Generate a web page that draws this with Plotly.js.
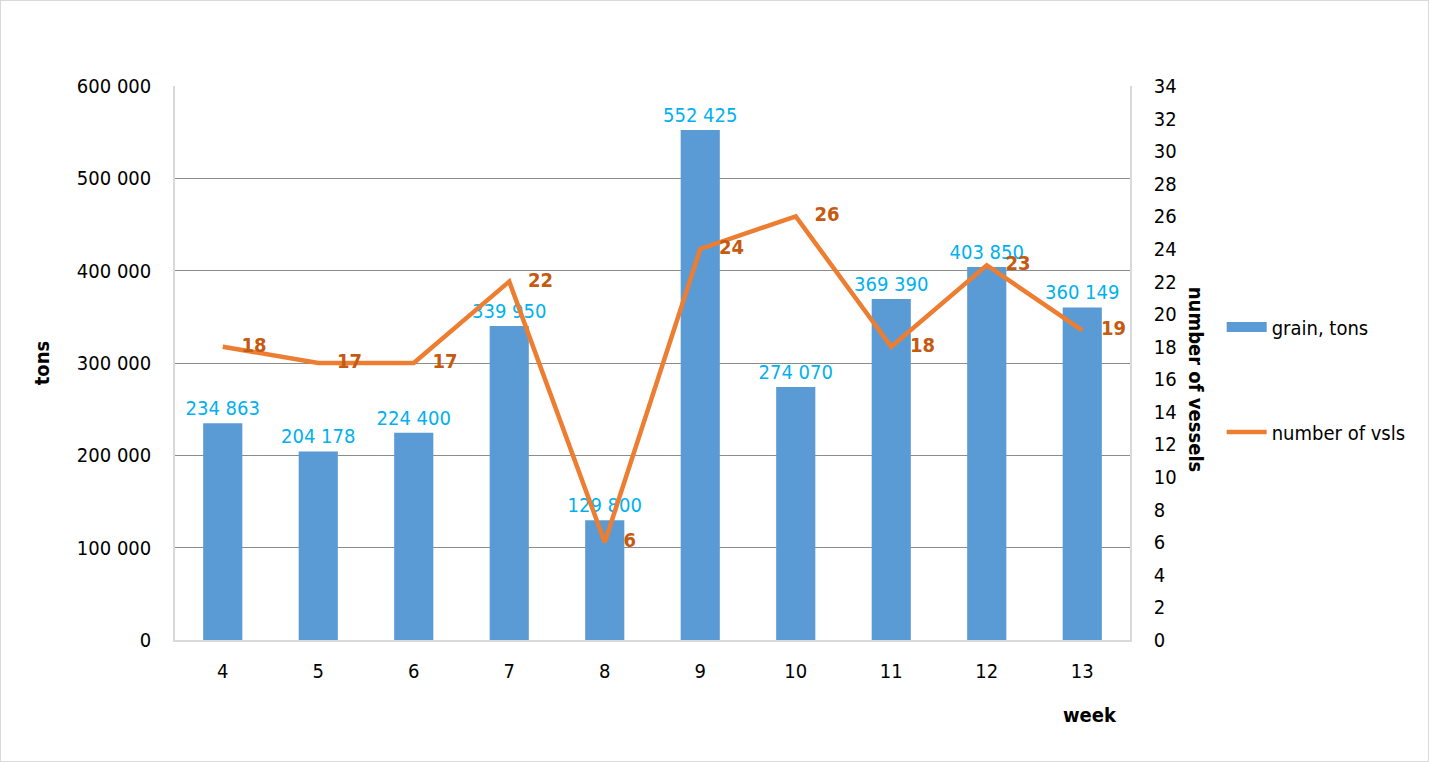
<!DOCTYPE html>
<html>
<head>
<meta charset="utf-8">
<script src="https://cdn.plot.ly/plotly-3.0.1.min.js"></script>
<style>
  html, body { margin: 0; padding: 0; background: #fff; }
  #chart { width: 1427px; height: 760px; border: 1px solid #d9d9d9; }
</style>
</head>
<body>
<div id="chart"></div>
<script>
var weeks = ['4', '5', '6', '7', '8', '9', '10', '11', '12', '13'];

var grainTons = [234863, 204178, 224400, 339950, 129800,
                 552425, 274070, 369390, 403850, 360149];

var vessels = [18, 17, 17, 22, 6, 24, 26, 18, 23, 19];

var FONT = 'DejaVu Sans Condensed, DejaVu Sans, sans-serif';
var BLUE = '#5B9BD5';
var ORANGE = '#ED7D31';

var grain = {
  x: weeks,
  y: grainTons,
  name: 'grain, tons',
  type: 'bar',
  showlegend: false,
  texttemplate: '%{y:,}',
  textposition: 'outside',
  constraintext: 'none',
  cliponaxis: false,
  textfont: { family: FONT, size: 20, color: '#00B0F0' },
  marker: { color: BLUE },
  hoverinfo: 'x+y'
};

// legend entry only: Excel draws the bar key as a wide block
var grainKey = {
  x: [null],
  y: [null],
  name: 'grain, tons',
  type: 'scatter',
  mode: 'lines',
  legendgroup: 'a',
  line: { color: BLUE, width: 11 },
  hoverinfo: 'skip'
};

var vsls = {
  x: weeks,
  y: vessels,
  name: 'number of vsls',
  type: 'scatter',
  mode: 'lines+text',
  yaxis: 'y2',
  legendgroup: 'b',
  text: vessels.map(function (v) { return '\u00a0\u00a0\u00a0' + v; }),
  textposition: 'middle right',
  cliponaxis: false,
  textfont: { family: FONT, size: 20, color: '#C55A11', weight: 'bold' },
  line: { color: ORANGE, width: 4.5 }
};

var layout = {
  width: 1427,
  height: 760,
  margin: { l: 174, r: 298, t: 85, b: 121 },
  paper_bgcolor: '#fff',
  plot_bgcolor: '#fff',
  separators: '. ',
  bargap: 0.59,
  font: { family: FONT, size: 20, color: '#000' },
  showlegend: true,
  legend: {
    x: 1.096,
    xanchor: 'left',
    y: 0.47,
    yanchor: 'middle',
    itemwidth: 40,
    tracegroupgap: 76,
    font: { family: FONT, size: 20, color: '#000' }
  },
  xaxis: {
    type: 'category',
    showgrid: false,
    showline: true,
    linecolor: '#d9d9d9',
    linewidth: 1.5,
    ticks: 'outside',
    ticklen: 12,
    tickcolor: 'rgba(0,0,0,0)',
    tickfont: { family: FONT, size: 20 }
  },
  yaxis: {
    range: [0, 600000],
    dtick: 100000,
    tickformat: ',',
    showgrid: true,
    gridcolor: '#8c8c8c',
    showline: true,
    linecolor: '#d9d9d9',
    linewidth: 1.5,
    zeroline: false,
    ticks: 'outside',
    ticklen: 18,
    tickcolor: 'rgba(0,0,0,0)',
    tickfont: { family: FONT, size: 20 },
    title: {
      text: '<b>tons</b>',
      standoff: 22,
      font: { family: FONT, size: 20 }
    }
  },
  yaxis2: {
    overlaying: 'y',
    side: 'right',
    range: [0, 34],
    dtick: 2,
    showgrid: false,
    showline: true,
    linecolor: '#d9d9d9',
    linewidth: 1.5,
    zeroline: false,
    ticks: 'outside',
    ticklen: 18,
    tickcolor: 'rgba(0,0,0,0)',
    tickfont: { family: FONT, size: 20 }
  },
  annotations: [{
    text: '<b>week</b>',
    xref: 'paper',
    yref: 'paper',
    x: 0.958,
    xanchor: 'center',
    y: -0.16,
    showarrow: false,
    font: { family: FONT, size: 20, color: '#000' }
  }, {
    text: '<b>number of vessels</b>',
    xref: 'paper',
    yref: 'paper',
    x: 1.07,
    xanchor: 'center',
    y: 0.47,
    yanchor: 'middle',
    textangle: 90,
    showarrow: false,
    font: { family: FONT, size: 20, color: '#000' }
  }]
};

Plotly.newPlot('chart', [grain, grainKey, vsls], layout, { displayModeBar: false });
</script>
</body>
</html>
